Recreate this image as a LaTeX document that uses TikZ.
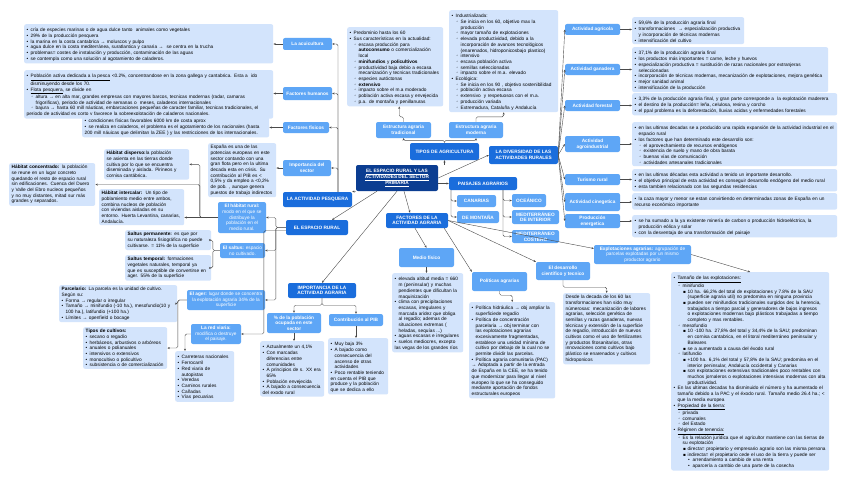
\documentclass[tikz,border=0pt]{standalone}
\usepackage{fontspec}
\setmainfont{Liberation Sans}
\newfontfamily\symfont{DejaVu Sans}
\usetikzlibrary{arrows.meta}
\setlength{\parindent}{0pt}
\definecolor{navyblue}{HTML}{0B3D91}
\definecolor{mainblue}{HTML}{1A6DDC}
\definecolor{subblue}{HTML}{5EA6F6}
\definecolor{noteblue}{HTML}{D3E4FC}
\definecolor{linegray}{HTML}{4A4A4A}
\newcommand{\notefont}{\fontsize{4.75}{5.7}\selectfont\lefthyphenmin=64\hyphenpenalty=10000\exhyphenpenalty=10000}
% list markers for the note boxes
\newcommand{\lione}{\par\noindent\hangindent=4pt\hangafter=1\makebox[4pt][l]{•}}
\newcommand{\litwo}{\par\noindent\hangindent=9pt\hangafter=1\hspace*{4.5pt}\makebox[4.5pt][l]{{\symfont\fontsize{4.2}{4}\selectfont ◦}}}
\newcommand{\lithree}{\par\noindent\hangindent=14pt\hangafter=1\hspace*{9.5pt}\makebox[4.5pt][l]{{\symfont\fontsize{4.2}{4}\selectfont ▪}}}
\newcommand{\lifour}{\par\noindent\hangindent=19pt\hangafter=1\hspace*{14.5pt}\makebox[4.5pt][l]{•}}
\begin{document}
\begin{tikzpicture}[x=1pt, y=-1pt,
        main/.style={fill=mainblue, text=white, rounded corners=2pt, inner sep=1pt, align=center, font=\bfseries\notefont},
        sub/.style={fill=subblue, text=white, rounded corners=2pt, inner sep=1pt, align=center, font=\bfseries\notefont},
        subtext/.style={sub, font=\notefont},
        note/.style={fill=noteblue, rounded corners=2pt, inner xsep=2.5pt, inner ysep=2pt, anchor=north west, align=left, font=\notefont},
        wh/.style 2 args={minimum width=#1pt, minimum height=#2pt},
        arr/.style={draw=linegray, line width=0.4pt, rounded corners=1.5pt, -{Stealth[length=2.4pt, width=2pt]}},
        ]
        \useasboundingbox[fill=white] (0,0) rectangle (848,487);

        % Central topic
        \node[fill=navyblue, text=white, rounded corners=2pt, inner sep=1pt, align=center, font=\bfseries\notefont, wh={82}{26}] (centro) at (397,178)
            {\underline{EL ESPACIO RURAL Y LAS}\\\underline{ACTIVIDADES DEL SECTOR}\\\underline{PRIMARIA}};

        % First level topics
        \node[main, wh={69}{15}] (pesquera) at (317.5,199.5) {LA ACTIVIDAD PESQUERA};
        \node[main, wh={62}{15}] (espacio) at (317,227.5) {EL ESPACIO RURAL};
        \node[main, wh={69}{17}] (tipos) at (444.5,151.5) {TIPOS DE AGRICULTURA};
        \node[main, wh={69}{18}] (diversidad) at (523.5,155) {LA DIVERSIDAD DE LAS\\ACTIVIDADES RURALES};
        \node[main, wh={68}{13}] (paisajes) at (483,183.5) {PAISAJES AGRARIOS};
        \node[main, wh={62}{15}] (factores) at (417,220.5) {FACTORES DE LA\\ACTIVIDAD AGRARIA};
        \node[main, wh={68}{15}] (importancia) at (322,290.5) {IMPORTANCIA DE LA\\ACTIVIDAD AGRARIA};

        % La actividad pesquera
        \node[sub, wh={49}{12}] (acui) at (307.5,44) {La acuicultura};
        \node[sub, wh={49}{13}] (humanos) at (307.5,93.5) {Factores humanos};
        \node[sub, wh={46}{11}] (fisicos) at (306,127.5) {Factores físicos};
        \node[sub, wh={48}{16}] (impsector) at (307,168) {Importancia del\\sector};

        \node[note, text width=244pt] (acuicD) at (24,24) {
            \lione cría de especies marinas o de agua dulce tanto\ \ animales como vegetales
            \lione 29\% de la producción pesquera
            \lione la marina en la costa cantabrica → moluscos y pulpo
            \lione agua dulce en la costa mediterránea, suratlantica y canaria →\ \ se centra en la trucha
            \lione problemas= costes de instalación y producción, contaminación de las aguas
            \lione se contempla como una solución al agotamiento de caladeros.};
        \node[note, text width=244pt] (humanosD) at (24,70) {
            \lione \underline{Población activa dedicada a la pesca} <0.2\%, concentrandose en la zona gallega y cantabrica. Esta a\ \ ido disminuyendo desde los 70.
            \lione \underline{Flota pesquera}, se divide en
            \litwo altura → en alta mar, grandes empresas con mayores barcos, tecnicas modernas (radar, camaras frigorificas), periodo de actividad de semanas o\ \ meses, caladeros internacionales
            \litwo bajura → hasta 60 mill náuticas, embarcaciones pequeñas de caracter familiar, tecnicas tradicionales, el periodo de actividad es corto y favorece la sobreexplotación de caladeros nacionales.};
        \node[note, text width=182pt] (fisicosD) at (82,115) {
            \lione condiciones físicas favorables 6000 km de costa aprox
            \lione se realiza en caladeros, el problema es el agotamiento de los nacionales (hasta 200 mill náuicas que delimitan la ZEE ) y las restricciones de los internacionales.};
        \node[note, text width=63pt] (espanaD) at (208,143) {España es una de las potencias europeas en este sector contando con una gran flota pero en la ultima decada esta en crisis. Su contribución al PIB es < 0,5\% y da empleo a <0,2\% de pob. , aunque genera puestos de trabajo indirectos};

        % El espacio rural
        \node[subtext, wh={48}{31}] (habitat) at (242,217.5) {\textbf{El hábitat rural:}\\modo en el que se\\distribuye la\\población en el\\medio rural.};
        \node[subtext, wh={45}{15}] (saltus) at (242.5,250.5) {\textbf{El saltus:} espacio\\no cultivado.};
        \node[subtext, wh={78}{20}] (ager) at (226,300) {\textbf{El ager:} lugar donde se concentra\\la explotación agraria 34\% de la\\superficie};
        \node[subtext, wh={50}{20}] (redviaria) at (216,334) {\textbf{La red viaria:}\\modifica o destruye\\el paisaje.};

        \node[note, text width=80pt] (dispersoD) at (104,149) {\textbf{Hábitat disperso:}la población se asienta en las tierras donde cultiva por lo que se encuentra diseminada y aislada. Pirineos y cornisa cantábrica.};
        \node[note, text width=81pt] (concentradoD) at (9,163) {\textbf{Hábitat concentrado:} la población se reune en un lugar concreto quedando el resto de espacio rural sin edificaciones. Cuenca del Duero y Valle del Ebro nucleos pequeños y no muy distantes, mitad sur más grandes y separados.};
        \node[note, text width=80pt] (intercalarD) at (99,189) {\textbf{Hábitat intercalar:}\ \ Un tipo de poblamiento medio entre ambos, combina nucleos de población con viviendas aisladas en su entorno. Huerta Levantina, canarias, Andalucía.};
        \node[note, text width=81pt] (permD) at (125,230) {\textbf{Saltus permanente:} es que por su naturaleza fisiográfica no puede cultivarse. = 11\% de la superficie};
        \node[note, text width=81pt] (tempD) at (125,255) {\textbf{Saltus temporal:} formaciones vegetales naturales, temporal ya que es susceptible de convertirse en ager. 55\% de la superficie};
        \node[note, text width=113pt] (parcelD) at (59,285) {\textbf{Parcelario:} La parcela es la unidad de cultivo. Según su:
            \lione Forma → regular o irregular
            \lione Tamaño → minifundio (-10 ha.), mesofundio(10 y 100 ha.), latifundio (+100 ha.)
            \lione Límites → openfield o bocage};
        \node[note, text width=79pt] (cultivosD) at (83,327) {\textbf{Tipos de cultivos:}
            \lione secano o regadío
            \lione herbáceos, arbustivos o arbóreos
            \lione anuales o polianuales
            \lione intensivos o extensivos
            \lione monocultivo o policultivo
            \lione subsistencia o de comercialización};
        \node[note, text width=54pt] (carreterasD) at (175,351) {
            \lione Carreteras nacionales
            \lione Ferrocarril
            \lione Red viaria de autopistas
            \lione Veredas
            \lione Caminos rurales
            \lione Cañadas
            \lione Vías pecuarias};

        % Importancia de la actividad agraria
        \node[sub, wh={54}{20}] (poblacion) at (294,323) {\% de la población\\ocupada en este\\sector};
        \node[sub, wh={54}{12}] (pib) at (356,320) {Contribución al PIB};
        \node[note, text width=59pt] (actualD) at (260,341) {
            \lione Actualmente un 4,1\%
            \lione Con marcadas diferencias entre comunidades
            \lione A principios de s. XX era 65\%
            \lione Población envejecida
            \lione A bajado a consecuencia del exodo rural};
        \node[note, text width=55pt] (pibD) at (328,338) {
            \lione Muy baja 3\%
            \lione A bajado como consecuencia del ascenso de otras actividades
            \lione Poco rentable teniendo en cuenta el PIB que produce y la población que se dedica a ello};

        % Tipos de agricultura
        \node[sub, wh={55}{16}] (tradicional) at (403.5,130) {Estructura agraria\\tradicional};
        \node[sub, wh={54}{16}] (moderna) at (476,130) {Estructura agraria\\moderna};
        \node[note, text width=91pt] (predominioD) at (347,27) {
            \lione Predominio hasta los 60
            \lione Sus características en la actualidad:
            \litwo escasa producción para \textbf{autoconsumo} o comercialización local
            \litwo \textbf{minifundios} y \textbf{policultivos}
            \litwo productividad baja debio a escasa mecanización y tecnicas tradicionales
            \litwo especies autóctonas
            \litwo \textbf{extensivo}
            \litwo impacto sobre el m.a moderado
            \litwo población activa escasa y envejecida
            \litwo p.a. de montaña y penillanuras};
        \node[note, text width=104pt] (industD) at (449,10) {
            \lione Industrializada:
            \litwo Se inicia en los 60, objetivo max la producción
            \litwo mayor tamaño de explotaciones
            \litwo elevada productividad, debido a la incorporación de avances tecnológicos (enarenados, hidroponicosbajo plastico)
            \litwo intensivo
            \litwo escasa población activa
            \litwo semillas seleccionadas
            \litwo impacto sobre el m.a. elevado
            \lione Ecológica:
            \litwo Se inicia en los 90 , objetivo sostenibilidad
            \litwo población activa escasa
            \litwo extensivo\ \ y respetuosos con el m.a.
            \litwo producción variada
            \litwo Extremadura, Cataluña y Andalucía};

        % Paisajes agrarios
        \node[sub, wh={39}{12}] (canarias) at (476.5,201) {CANARIAS};
        \node[sub, wh={42}{12}] (montana) at (478,217) {DE MONTAÑA};
        \node[sub, wh={34}{13}] (oceanico) at (529,200.5) {OCEÁNICO};
        \node[sub, wh={47}{14}] (medint) at (535.5,217) {MEDITERRÁNEO\\DE INTERIOR};
        \node[sub, wh={47}{13}] (medcost) at (535.5,236.5) {MEDITERRÁNEO\\COSTERO};

        % Factores de la actividad agraria
        \node[sub, wh={55}{19}] (medio) at (426.5,257.5) {Medio físico};
        \node[sub, wh={55}{19}] (politicas) at (499.5,281.5) {Políticas agrarias};
        \node[sub, wh={54}{18}] (desarrollo) at (563,271) {El desarrollo\\científico y tecnico};
        \node[subtext, wh={97}{19}] (explot) at (642.5,254.5) {\textbf{Explotaciones agrarias:} agrupación de\\parcelas explotadas por un mismo\\productor agrario};

        \node[note, text width=66pt] (medioD) at (392,273) {
            \lione elevada altitud media = 660 m (peninsular) y muchas pendientes que dificultan la maquinización
            \lione clima con precipitaciones escasas, irregulares y marcada aridez que obliga al regadío; ademas de situaciones extremas ( heladas, sequías ...)
            \lione aguas escasas e irregulares
            \lione suelos mediocres, excepto las vegas de los grandes ríos};
        \node[note, text width=81pt] (politD) at (469,302) {
            \lione Política hidráulica → obj ampliar la superficiede regadío
            \lione Política de concentración parcelaria → obj terminar con las explotaciones agrarias excesivamente fragmentadas, establece una unidad mínima de cultivo por debajo de la cual no se permite dividir las parcelas.
            \lione Política agraria comunitaria (PAC) → Adoptada a partir de la entrada de España en la CEE, se ha tenido que modernizar para llegar al nivel europeo lo que se ha conseguido mediante aportación de fondos estructurales europeos};
        \node[note, text width=82pt] (desdeD) at (563,293) {Desde la decada de los 60 las transformaciones han sido muy númerosas: mecanización de labores agrarias, selección genética de semillas y razas ganaderas, nuevas técnicas y extensión de la superficie de regadío, introducción de nuevos cultivos como el uso de fertilizantes y productos fitosanitarios, otras innovaciones como cultivos bajo plástico se enarenados y cultivos hidroponicos};
        \node[note, text width=153pt] (tamanoD) at (671,272) {
            \lione \underline{Tamaño de las explotaciones:}
            \litwo minifundio
            \lithree 10 ha. 66,2\% del total de explotaciones y 7.8\% de la SAU (superficie agraria util) no predomina en ninguna provincia
            \lithree pueden ser minifundios tradicionales surgidos dec la herencia, trabajados a tiempo parcial y generadores de bajos ingresos o explotaciones modernas bajo plásticos trabajadas a tiempo completo y mas rentables.
            \litwo mesofundio
            \lithree 10 -100 ha. 27,8\% del total y 34,4\% de la SAU; predominan en cornisa cantabrica, en el litoral mediterráneo peninsular y Baleares
            \lithree se a aumentado a causa del éxodo rural
            \litwo latifundio
            \lithree +100 ha. 6,1\% del total y 57,8\% de la SAU; predomina en el interior peninsular, Andalucía occidental y Canarias
            \lithree son explotaciones extensivas tradicionales poco rentables con muchos jornaleros o explotaciones intensivas modernas con alta productividad.
            \lione En las ultimas decadas ha disminuido el número y ha aumentado el tamaño debido a la PAC y el éxodo rural. Tamaño medio 26.4 ha.; < que la media europea
            \lione \underline{Propiedad de la tierra:}
            \litwo privada
            \litwo comunales
            \litwo del Estado
            \lione \underline{Régimen de tenencia:}
            \litwo Es la relación jurídica que el agricultor mantiene con las tierras de su explotación
            \lithree directa= propietario y empresario agrario son las misma persona
            \lithree indirecta= el propietario cede el uso de la tierra y puede ser
            \lifour arrendamiento a cambio de una renta
            \lifour aparcería a cambio de una parte de la cosecha};

        % La diversidad de las actividades rurales
        \foreach \n/\y/\h/\t in {agricola/29.5/11/Actividad agrícola, ganadera/69.5/11/Actividad ganadera,
            forestal/105.5/11/Actividad forestal, agroind/144/16/Actividad\\agroindustrial,
            turismo/179.5/11/Turismo rural, cinegetica/202/18/Actividad cinegetica,
            energetica/221/14/Producción\\energetica} {
            \node[sub, wh={55}{\h}] (\n) at (592.5,\y) {\t};
        }
        \node[note, text width=107pt] (agricolaD) at (632,17) {
            \lione 59,6\% de la producción agraria final
            \lione transformaciones\ \ → especialización productiva y incorporación de técnicas modernas
            \lione intensificación del cultivo};
        \node[note, text width=191pt] (ganaderaD) at (632,47) {
            \lione 37,1\% de la producción agraria final
            \lione los productos más importantes = carne, leche y huevos
            \lione especialización productiva = sustitución de razas nacionales por extranjeras seleccionadas
            \lione incorporación de técnicas modernas, mecanización de explotaciones, mejora genética
            \lione mejor sanidad animal
            \lione intensificación de la producción};
        \node[note, text width=200pt] (forestalD) at (632,93) {
            \lione 3,3\% de la producción agraria final, y gran parte corresponde a\ \ la explotación maderera
            \lione el destino de la producción= leña, celulosa, resina y corcho
            \lione el ppal problema es la deforestación, lluvias acidas y enfermedades forestales};
        \node[note, text width=200pt] (agroindD) at (632,122) {
            \lione en las ultimas decadas se a producido una rapida expansión de la actividad industrial en el espacio rural
            \lione los factores que han determinado este desarrollo son:
            \litwo el aprovechamiento de recursos endógenos
            \litwo existencia de suelo y mano de obra barata
            \litwo buenas vías de comunicación
            \litwo actividades artesanales tradicionales};
        \node[note, text width=200pt] (turismoD) at (632,169) {
            \lione en las ultimas décadas esta actividad a tenido un importante desarrollo.
            \lione el objetivo principal de esta actividad es conseguir desarrollo endógeno del medio rural
            \lione esta tambien relacionado con las segundas residencias};
        \node[note, text width=200pt] (cinegeticaD) at (632,193) {
            \lione la caza mayor y menor se estan convirtiendo en determinadas zonas de España en un recurso económico importante};
        \node[note, text width=200pt] (energeticaD) at (632,215) {
            \lione se ha sumado a la ya existente minería de carbon o producción hidroeléctrica, la producción eólica y solar
            \lione con la desventaja de una transformación del paisaje};

        % Connectors from the central topic
        \draw[arr] (centro.south west) -- (pesquera.north east);
        \draw[arr] ([xshift=-20pt]centro.south) -- ([xshift=15pt]espacio.north);
        \draw[arr] (centro.south) -- (importancia.north);
        \draw[arr] ([xshift=7pt]centro.south) -- ([xshift=-7pt]factores.north);
        \draw[arr] (centro.east |- paisajes.west) -- (paisajes.west);
        \draw[arr] (centro.east) -- (diversidad.west);
        \draw[arr] (centro.north -| tipos.south) -- (tipos.south);

        % Connectors of la actividad pesquera
        \foreach \n in {acui, humanos, fisicos, impsector}
            \draw[arr] ([xshift=20.5pt]pesquera.north) |- (\n.east);
        \draw[arr] (acui.west) -- (acui.west -| acuicD.east);
        \draw[arr] (humanos.west) -- (humanos.west -| humanosD.east);
        \draw[arr] (fisicos.west) -- (fisicos.west -| fisicosD.east);
        \draw[arr] (impsector.west) -- (impsector.west -| espanaD.east);

        % Connectors of el espacio rural
        \foreach \n in {habitat, saltus, ager}
            \draw[arr] (espacio.west) -- ++(-10,0) |- (\n.east);
        \draw[arr] ([yshift=-3pt]espacio.west) -- ++(-22,0) |- (redviaria.east);
        \draw[arr] (habitat.west) -- ++(-18,0) |- (dispersoD.east);
        \draw[arr] (habitat.west) -- ++(-18,0) |- (concentradoD.east);
        \draw[arr] (habitat.west) -- (habitat.west -| intercalarD.east);
        \draw[arr] (saltus.west) -- ++(-7,0) |- (permD.east);
        \draw[arr] (saltus.west) -- ++(-7,0) |- (tempD.east);
        \draw[arr] (ager.west) -- ++(-9,0) |- (parcelD.east);
        \draw[arr] (ager.west) -- ++(-9,0) |- (cultivosD.east);
        \draw[arr] (redviaria.west) -| ([xshift=10pt]carreterasD.north west);

        % Connectors of la importancia
        \draw[arr] (importancia.south) -- ++(0,7) -| (poblacion.north);
        \draw[arr] (importancia.south) -- ++(0,7) -| (pib.north);
        \draw[arr] (poblacion.south) -- (poblacion.south |- actualD.north);
        \draw[arr] (pib.south) -- (pib.south |- pibD.north);

        % Connectors of tipos de agricultura
        \draw[arr] (tipos.north) -- ++(0,-2.5) -| (tradicional.south);
        \draw[arr] (tipos.north) -- ++(0,-2.5) -| (moderna.south);
        \draw[arr] (tradicional.north) -- ++(0,-5) -| ([xshift=4pt]predominioD.south);
        \draw[arr] (moderna.north) -- ++(0,-5) -| (industD.south);

        % Connectors of paisajes agrarios
        \foreach \n in {canarias, montana}
            \draw[arr] ([xshift=-32pt]paisajes.south) |- (\n.west);
        \foreach \n in {oceanico, medint, medcost}
            \draw[arr] ([xshift=20pt]paisajes.south) |- (\n.west);

        % Connectors of factores
        \draw[arr] ([xshift=-2pt]factores.south) -- (medio.north);
        \draw[arr] ([xshift=-4pt]factores.south east) -- (politicas.north west);
        \draw[arr] (factores.east) -- (desarrollo.north west);
        \draw[arr] (factores.east) -- ([yshift=6pt]explot.west);
        \draw[arr] (medio.south) -- (medio.south |- medioD.north);
        \draw[arr] (politicas.south) -- ++(0,4) -| (politD.north);
        \draw[arr] (desarrollo.south) -- ++(0,7) -| (desdeD.north);
        \draw[arr] (explot.east) -- (tamanoD.north);

        % Connectors of la diversidad
        \foreach \n in {agricola, ganadera, forestal, agroind, turismo, cinegetica, energetica} {
            \draw[arr] (diversidad.east) -- (\n.west);
            \draw[arr] (\n.east) -- (\n.east -| \n D.west);
        }
    \end{tikzpicture}
\end{document}
